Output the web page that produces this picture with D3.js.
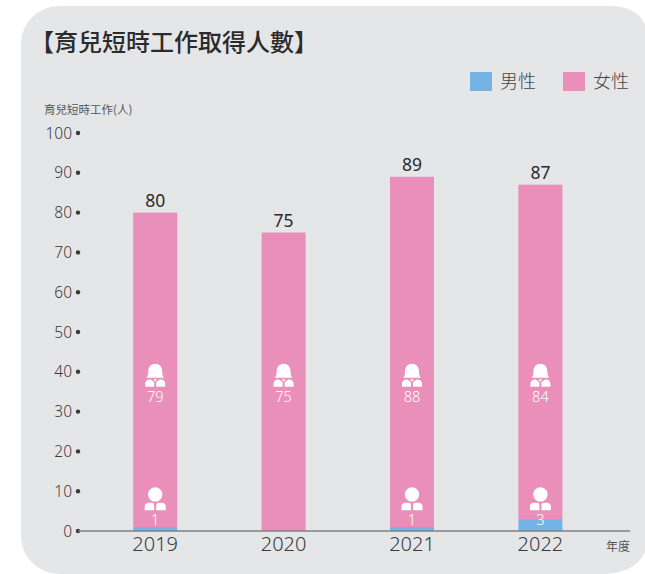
<!DOCTYPE html>
<html>
<head>
<meta charset="utf-8">
<script src="https://cdn.jsdelivr.net/npm/d3@7"></script>
<style>
  html, body { margin: 0; padding: 0; background: #fff; overflow: hidden; }
  text { font-family: "Noto Sans", "Noto Sans CJK TC", sans-serif; }
  .cjk { font-family: "Noto Sans CJK TC", sans-serif; }
</style>
</head>
<body>
<div id="chart"></div>
<script>
const years = ['2019', '2020', '2021', '2022'];
const male = [1, 0, 1, 3];
const female = [79, 75, 88, 84];
const totals = [80, 75, 89, 87];
const yTicks = [0, 10, 20, 30, 40, 50, 60, 70, 80, 90, 100];
const legendItems = ['男性', '女性'];

const colorMale = '#74b4e4';
const colorFemale = '#e98fb9';
const textColor = '#3a3a3c';

const svg = d3.select('#chart')
    .append('svg')
    .attr('width', 645)
    .attr('height', 574);

// grey panel, runs off the right edge
svg.append('rect')
    .attr('x', 21)
    .attr('y', 6)
    .attr('width', 660)
    .attr('height', 568)
    .attr('rx', 38)
    .attr('fill', '#e5e6e8');

svg.append('path')
    .attr('d', 'M600,574 Q635,574 645,552 L645,574 Z')
    .attr('fill', '#fff');
svg.append('path')
    .attr('d', 'M610,6 Q636,6 645,24 L645,6 Z')
    .attr('fill', '#fff');

svg.append('text')
    .attr('class', 'cjk')
    .attr('x', 30)
    .attr('y', 51)
    .attr('font-size', 24)
    .attr('font-weight', 500)
    .attr('fill', '#2b2b2d')
    .text('【育兒短時工作取得人數】');

svg.append('text')
    .attr('class', 'cjk')
    .attr('x', 44)
    .attr('y', 114)
    .attr('font-size', 11.5)
    .attr('fill', '#555')
    .text('育兒短時工作(人)');

const xScale = d3.scaleBand()
    .domain(years)
    .range([91, 604.6])
    .paddingInner(0.657)
    .paddingOuter(0.3285);

const yScale = d3.scaleLinear()
    .domain([0, 100])
    .range([531, 133]);

// y axis: number plus a dot
const yAxisG = svg.append('g').attr('class', 'yAxisG');
yTicks.forEach(t => {
    yAxisG.append('text')
        .attr('x', 72)
        .attr('y', yScale(t) + 5.5)
        .attr('text-anchor', 'end')
        .attr('font-size', 15.5)
        .attr('font-weight', 300)
        .attr('fill', textColor)
        .text(t);
    yAxisG.append('circle')
        .attr('cx', 78)
        .attr('cy', yScale(t))
        .attr('r', 2.2)
        .attr('fill', textColor);
});

// stacked bars
svg.append('g').selectAll('rect')
    .data(years)
    .join('rect')
    .attr('x', d => xScale(d))
    .attr('y', (d, i) => yScale(male[i]))
    .attr('width', xScale.bandwidth())
    .attr('height', (d, i) => yScale(0) - yScale(male[i]))
    .attr('fill', colorMale);

svg.append('g').selectAll('rect')
    .data(years)
    .join('rect')
    .attr('x', d => xScale(d))
    .attr('y', (d, i) => yScale(male[i] + female[i]))
    .attr('width', xScale.bandwidth())
    .attr('height', (d, i) => yScale(male[i]) - yScale(male[i] + female[i]))
    .attr('fill', colorFemale);

// baseline
svg.append('line')
    .attr('x1', 78)
    .attr('x2', 630)
    .attr('y1', yScale(0))
    .attr('y2', yScale(0))
    .attr('stroke', '#808083')
    .attr('stroke-width', 1.5);

// x labels
svg.append('g').selectAll('text')
    .data(years)
    .join('text')
    .attr('x', d => xScale(d) + xScale.bandwidth() / 2)
    .attr('y', 551)
    .attr('text-anchor', 'middle')
    .attr('font-size', 20)
    .attr('font-weight', 300)
    .attr('fill', textColor)
    .text(d => d);

svg.append('text')
    .attr('class', 'cjk')
    .attr('x', 630)
    .attr('y', 551)
    .attr('text-anchor', 'end')
    .attr('font-size', 12)
    .attr('fill', '#555')
    .text('年度');

// totals above the bars
svg.append('g').selectAll('text')
    .data(years)
    .join('text')
    .attr('x', d => xScale(d) + xScale.bandwidth() / 2)
    .attr('y', (d, i) => yScale(totals[i]) - 6)
    .attr('text-anchor', 'middle')
    .attr('font-size', 17.5)
    .attr('fill', '#2b2b2d')
    .text((d, i) => totals[i]);

// person icons, drawn around (0,0) at the top centre of the icon
const maleIcon = 'M0,0 a7.2,7.2 0 1,0 0.01,0 Z'
    + ' M-10.5,23 L-10.5,19 Q-10.5,15.5 -6,15.5 L-3,15.5 Q-1,15.5 -1,18 L-1,23 Z'
    + ' M10.5,23 L10.5,19 Q10.5,15.5 6,15.5 L3,15.5 Q1,15.5 1,18 L1,23 Z';
const femaleIcon = 'M0,0 C-5,0 -7,4 -7,8 C-7,11 -7.5,13 -9,14 L9,14 C7.5,13 7,11 7,8 C7,4 5,0 0,0 Z'
    + ' M-10,23 L-10,20 Q-10,16 -5,15.5 L-1,18.5 L-1,23 Z'
    + ' M10,23 L10,20 Q10,16 5,15.5 L1,18.5 L1,23 Z'
    + ' M-2,15.5 L2,15.5 L0,18 Z';

const maleShown = years.filter((d, i) => male[i] > 0);

svg.append('g').selectAll('path')
    .data(years)
    .join('path')
    .attr('transform', d => `translate(${xScale(d) + xScale.bandwidth() / 2},${yScale(42)})`)
    .attr('d', femaleIcon)
    .attr('fill', '#fff');

svg.append('g').selectAll('text')
    .data(years)
    .join('text')
    .attr('x', d => xScale(d) + xScale.bandwidth() / 2)
    .attr('y', yScale(40) + 30)
    .attr('text-anchor', 'middle')
    .attr('font-size', 14.5)
    .attr('font-weight', 300)
    .attr('fill', '#fff')
    .text((d, i) => female[i]);

svg.append('g').selectAll('path')
    .data(maleShown)
    .join('path')
    .attr('transform', d => `translate(${xScale(d) + xScale.bandwidth() / 2},${yScale(11)})`)
    .attr('d', maleIcon)
    .attr('fill', '#fff');

svg.append('g').selectAll('text')
    .data(maleShown)
    .join('text')
    .attr('x', d => xScale(d) + xScale.bandwidth() / 2)
    .attr('y', yScale(0) - 33)
    .attr('dy', 35 - 8)
    .attr('text-anchor', 'middle')
    .attr('font-size', 14.5)
    .attr('font-weight', 300)
    .attr('fill', '#fff')
    .text(d => male[years.indexOf(d)]);

// legend
const legendX = [470, 563];
const legendColors = [colorMale, colorFemale];
legendItems.forEach((name, i) => {
    svg.append('rect')
        .attr('x', legendX[i])
        .attr('y', 72)
        .attr('width', 22)
        .attr('height', 19)
        .attr('fill', legendColors[i]);
    svg.append('text')
        .attr('class', 'cjk')
        .attr('x', legendX[i] + 30)
        .attr('y', 88)
        .attr('font-size', 18)
        .attr('font-weight', 300)
        .attr('fill', '#444')
        .text(name);
});
</script>
</body>
</html>
